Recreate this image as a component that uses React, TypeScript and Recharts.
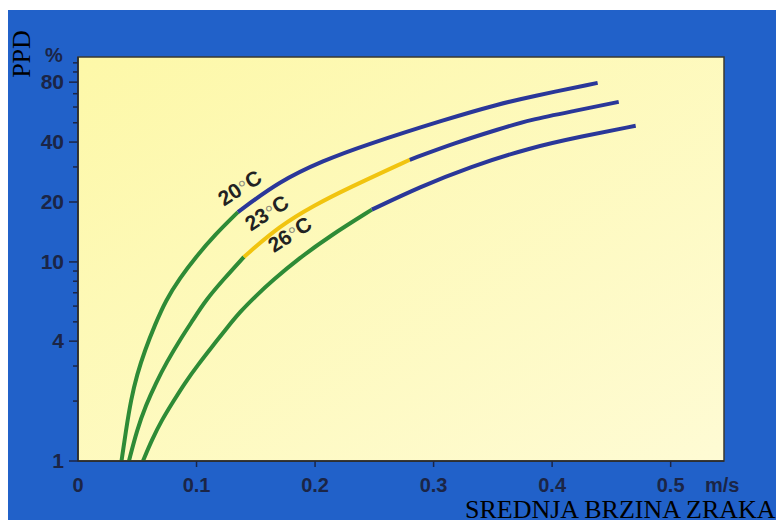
import React from 'react';
import { LineChart, Line, XAxis, YAxis, ReferenceArea, ReferenceDot } from 'recharts';

// mean air speed (m/s) and PPD (%)
const speed20 = [0.0367, 0.0405, 0.0447, 0.0497, 0.0565, 0.0649, 0.0742, 0.086, 0.0995, 0.1155, 0.1349, 0.1703, 0.2066, 0.2403, 0.3111, 0.3558, 0.3811, 0.4384];
const ppd20 = [1, 1.43, 2.03, 2.71, 3.61, 4.83, 6.44, 8.31, 10.6, 13.7, 17.8, 25.5, 32.2, 38.3, 52.3, 62.2, 67.5, 79.3];
const breaks20 = [0.1349];

const speed23 = [0.043, 0.0497, 0.0573, 0.0658, 0.075, 0.086, 0.097, 0.1079, 0.1231, 0.14, 0.1703, 0.1998, 0.2268, 0.2799, 0.3179, 0.3558, 0.3811, 0.4191, 0.4562];
const ppd23 = [1, 1.43, 1.91, 2.47, 3.15, 4.06, 5.11, 6.44, 8.21, 10.6, 15.2, 19.3, 23.3, 32.6, 39.6, 46.6, 51.7, 57.4, 63.7];
const breaks23 = [0.14, 0.2799];

const speed26 = [0.0548, 0.0624, 0.0708, 0.0801, 0.0902, 0.1012, 0.113, 0.1256, 0.1366, 0.1501, 0.1636, 0.1872, 0.2125, 0.2479, 0.2884, 0.3305, 0.3811, 0.4233, 0.4705];
const ppd26 = [1, 1.28, 1.61, 1.98, 2.47, 3.04, 3.74, 4.66, 5.61, 6.75, 8.03, 10.5, 13.5, 18.3, 23.8, 30.0, 37.4, 42.5, 48.3];
const breaks26 = [0.2479];

const curveNames = ['20', '23', '26'];
const labelSpeed = [0.1366, 0.1594, 0.1788];
const labelPpd = [23.5, 17.6, 13.7];

const speedTicks = [0, 0.1, 0.2, 0.3, 0.4, 0.5];
const ppdMajor = [1, 4, 10, 20, 40, 80];
const ppdMinor = [2, 3, 5, 6, 7, 8, 9, 30, 50, 60, 70, 90, 100];

const GREEN = '#2e8b36';
const BLUE = '#2a3799';
const YELLOW = '#f1c40f';
const INK = '#1b2546';
const FONT = '"Liberation Sans", Arial, sans-serif';

function split(speeds: number[], ppds: number[], breaks: number[]) {
  const pts = speeds.map((s, i) => ({ speed: s, ppd: ppds[i] }));
  const bounds = [-Infinity, ...breaks, Infinity];
  return bounds.slice(0, -1).map((lo, i) => pts.filter((p) => p.speed >= lo && p.speed <= bounds[i + 1]));
}

const curves = [
  { segs: split(speed20, ppd20, breaks20), colors: [GREEN, BLUE] },
  { segs: split(speed23, ppd23, breaks23), colors: [GREEN, YELLOW, BLUE] },
  { segs: split(speed26, ppd26, breaks26), colors: [GREEN, BLUE] },
];

const YTick = (props: any) => {
  const { x, y, payload } = props;
  const major = ppdMajor.includes(payload.value);
  return (
    <g>
      <line x1={x - (major ? 9 : 5)} x2={x} y1={y} y2={y} stroke={INK} strokeWidth={1.5} />
      {major && (
        <text x={x - 14} y={y} dy={7} textAnchor="end" fontFamily={FONT} fontWeight="bold" fontSize={21} fill={INK}>
          {payload.value}
        </text>
      )}
    </g>
  );
};

const XTick = (props: any) => {
  const { x, y, payload } = props;
  return (
    <g>
      {payload.value > 0 && <line x1={x} x2={x} y1={y} y2={y + 6} stroke={INK} strokeWidth={1.5} />}
      <text x={x} y={y + 31} textAnchor="middle" fontFamily={FONT} fontWeight="bold" fontSize={20} fill={INK}>
        {payload.value}
      </text>
    </g>
  );
};

const CurveLabel = ({ cx, cy, name }: any) => (
  <text
    x={cx}
    y={cy}
    dy={7}
    textAnchor="middle"
    transform={`rotate(-33 ${cx} ${cy})`}
    fontFamily={FONT}
    fontWeight="bold"
    fontSize={21}
    fill="#222"
  >
    {name}
    <tspan fontWeight="normal" fill="#8e8c7c" dy={2}>°</tspan>
    <tspan dy={-2}>C</tspan>
  </text>
);

export default function App() {
  return (
    <div style={{ position: 'relative', width: 776, height: 510, marginTop: 2, background: '#2161c9' }}>
      <LineChart width={776} height={510} margin={{ top: 47, right: 60, bottom: 0, left: 0 }}>
        <defs>
          <linearGradient id="plotBg" x1="0" y1="0" x2="1" y2="1">
            <stop offset="0%" stopColor="#fdf8a8" />
            <stop offset="100%" stopColor="#fefbd4" />
          </linearGradient>
        </defs>
        <XAxis
          type="number"
          dataKey="speed"
          domain={[0, 0.545]}
          ticks={speedTicks}
          interval={0}
          allowDataOverflow
          height={59}
          tickSize={0}
          tickMargin={0}
          tickLine={false}
          axisLine={{ stroke: '#2b2a28', strokeWidth: 1.5 }}
          tick={<XTick />}
        />
        <YAxis
          type="number"
          scale="log"
          domain={[1, 107]}
          ticks={[...ppdMajor, ...ppdMinor]}
          interval={0}
          allowDataOverflow
          width={70}
          tickSize={0}
          tickMargin={0}
          tickLine={false}
          axisLine={{ stroke: '#2b2a28', strokeWidth: 1.5 }}
          tick={<YTick />}
        />
        <ReferenceArea x1={0} x2={0.545} y1={1} y2={107} fill="url(#plotBg)" fillOpacity={1} stroke="#3a3830" strokeWidth={1.5} />
        {curves.map((c, ci) =>
          c.segs.map((seg, si) => (
            <Line
              key={`${ci}-${si}`}
              data={seg}
              dataKey="ppd"
              type="basis"
              stroke={c.colors[si]}
              strokeWidth={4}
              dot={false}
              activeDot={false}
              isAnimationActive={false}
            />
          ))
        )}
        {curveNames.map((n, i) => (
          <ReferenceDot
            key={n}
            x={labelSpeed[i]}
            y={labelPpd[i]}
            r={0}
            shape={(p: any) => <CurveLabel cx={p.cx} cy={p.cy} name={n} />}
          />
        ))}
      </LineChart>
      <svg width={776} height={510} style={{ position: 'absolute', left: 0, top: 0, pointerEvents: 'none' }}>
        <text x={22} y={44} transform="rotate(-90 22 44)" textAnchor="middle" fontFamily='"Liberation Serif", serif' fontSize={26} fill="#000">
          PPD
        </text>
        <text x={46} y={52} textAnchor="middle" fontFamily={FONT} fontWeight="bold" fontSize={20} fill={INK}>
          %
        </text>
        <text x={697} y={482} fontFamily={FONT} fontWeight="bold" fontSize={20} fill={INK}>
          m/s
        </text>
        <text x={457} y={508} fontFamily='"Liberation Serif", serif' fontSize={26} fill="#000">
          SREDNJA BRZINA ZRAKA
        </text>
      </svg>
    </div>
  );
}
